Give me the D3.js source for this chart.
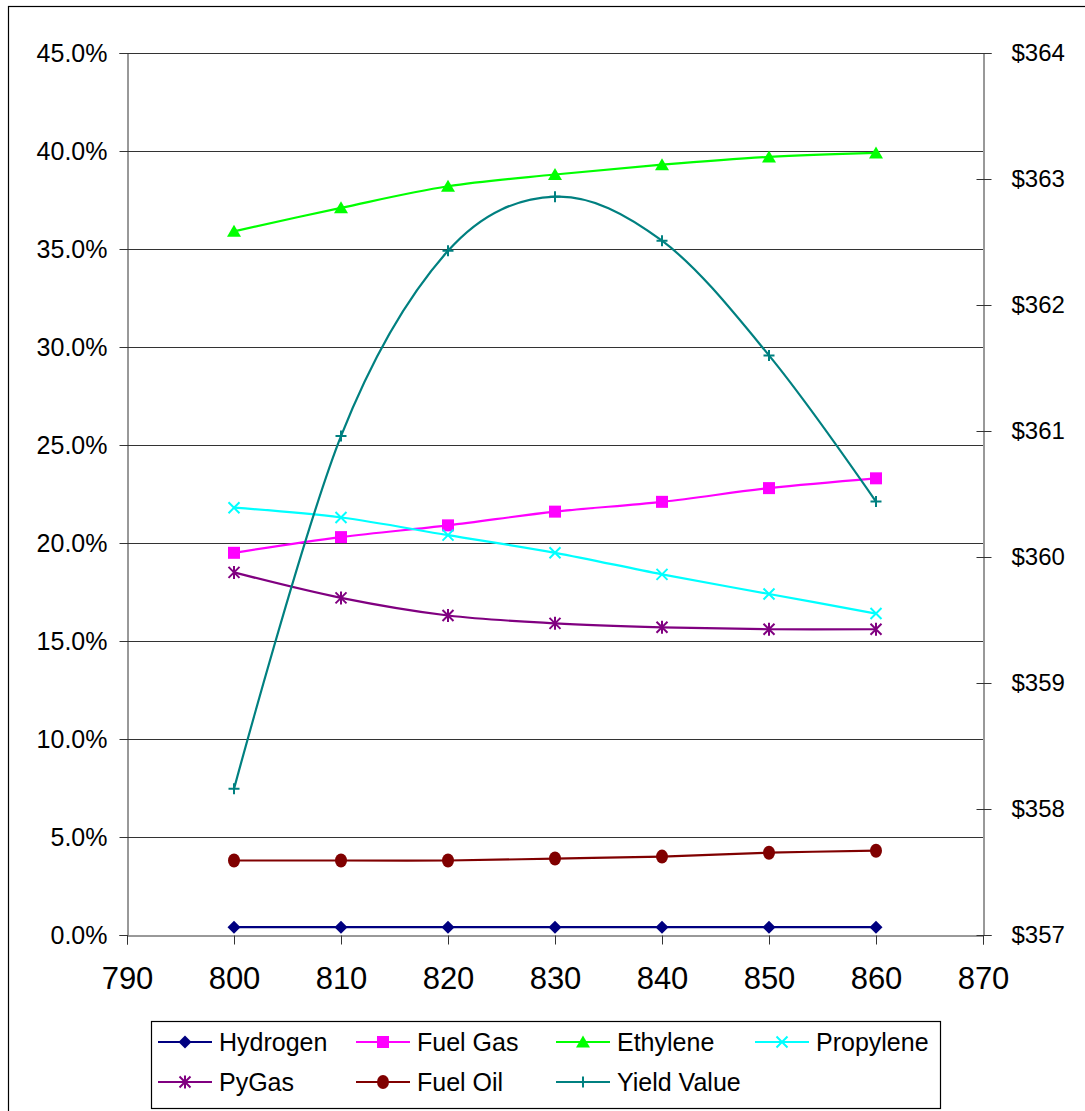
<!DOCTYPE html>
<html>
<head>
<meta charset="utf-8">
<script src="https://cdn.jsdelivr.net/npm/d3@7"></script>
<style>
  html, body { margin: 0; padding: 0; background: #fff; }
  svg { display: block; font-family: "Liberation Sans", Arial, sans-serif; }
</style>
</head>
<body>
<svg id="chart" width="1085" height="1111"></svg>
<script>
// Furnace outlet temperature
const temperatures = [800, 810, 820, 830, 840, 850, 860];

// Product yields, percent
const hydrogen  = [0.4, 0.4, 0.4, 0.4, 0.4, 0.4, 0.4];
const fuelGas   = [19.5, 20.3, 20.9, 21.6, 22.1, 22.8, 23.3];
const ethylene  = [35.9, 37.1, 38.2, 38.8, 39.3, 39.7, 39.9];
const propylene = [21.8, 21.3, 20.4, 19.5, 18.4, 17.4, 16.4];
const pyGas     = [18.5, 17.2, 16.3, 15.9, 15.7, 15.6, 15.6];
const fuelOil   = [3.8, 3.8, 3.8, 3.9, 4.0, 4.2, 4.3];

// Yield value, dollars (secondary axis)
const yieldValue = [358.16, 360.96, 362.43, 362.86, 362.51, 361.60, 360.44];

// Axis ticks
const xTicks = [790, 800, 810, 820, 830, 840, 850, 860, 870];
const leftTicks = [0, 5, 10, 15, 20, 25, 30, 35, 40, 45];
const rightTicks = [357, 358, 359, 360, 361, 362, 363, 364];

const series = [
  { name: "Hydrogen",    values: hydrogen,   color: "#000080", marker: "diamond",  axis: "left" },
  { name: "Fuel Gas",    values: fuelGas,    color: "#FF00FF", marker: "square",   axis: "left" },
  { name: "Ethylene",    values: ethylene,   color: "#00FF00", marker: "triangle", axis: "left" },
  { name: "Propylene",   values: propylene,  color: "#00FFFF", marker: "x",        axis: "left" },
  { name: "PyGas",       values: pyGas,      color: "#800080", marker: "star",     axis: "left" },
  { name: "Fuel Oil",    values: fuelOil,    color: "#800000", marker: "circle",   axis: "left" },
  { name: "Yield Value", values: yieldValue, color: "#008080", marker: "plus",     axis: "right" }
];

const svg = d3.select("#chart");

const plot = { left: 127, right: 983, top: 53, bottom: 935 };

const x = d3.scaleLinear().domain([790, 870]).range([plot.left, plot.right]);
const yLeft = d3.scaleLinear().domain([0, 45]).range([plot.bottom, plot.top]);
const yRight = d3.scaleLinear().domain([357, 364]).range([plot.bottom, plot.top]);

// Outer frame
svg.append("rect")
  .attr("x", 8.5).attr("y", 6.5)
  .attr("width", 1090).attr("height", 1110)
  .attr("fill", "none").attr("stroke", "#000").attr("stroke-width", 1.2);

// Horizontal gridlines
svg.append("g")
  .selectAll("line")
  .data(leftTicks.filter(d => d > 0))
  .join("line")
  .attr("x1", plot.left).attr("x2", plot.right)
  .attr("y1", d => Math.round(yLeft(d)) + 0.5)
  .attr("y2", d => Math.round(yLeft(d)) + 0.5)
  .attr("stroke", "#333").attr("stroke-width", 1);

// Left axis
const leftAxis = svg.append("g")
  .attr("transform", `translate(${plot.left + 0.5},0)`)
  .call(d3.axisLeft(yLeft).tickValues(leftTicks).tickSize(8).tickPadding(12)
    .tickFormat(d => d.toFixed(1) + "%"));
leftAxis.select(".domain").attr("stroke", "#333");
leftAxis.selectAll(".tick line").attr("stroke", "#333");
leftAxis.selectAll("text")
  .attr("font-size", 25).attr("fill", "#000")
  .attr("font-family", "Liberation Sans, Arial, sans-serif");

// Right axis (ticks cross the axis line)
const rightAxis = svg.append("g")
  .attr("transform", `translate(${plot.right + 0.5},0)`)
  .call(d3.axisRight(yRight).tickValues(rightTicks).tickSize(8).tickPadding(20)
    .tickFormat(d => "$" + d));
rightAxis.select(".domain").attr("stroke", "#333");
rightAxis.selectAll(".tick line").attr("x1", -7).attr("stroke", "#333");
rightAxis.selectAll("text")
  .attr("font-size", 24).attr("fill", "#000")
  .attr("font-family", "Liberation Sans, Arial, sans-serif");

// Bottom axis
const bottomAxis = svg.append("g")
  .attr("transform", `translate(0,${plot.bottom + 0.5})`)
  .call(d3.axisBottom(x).tickValues(xTicks).tickSize(9).tickPadding(22)
    .tickFormat(d3.format("d")));
bottomAxis.select(".domain").attr("stroke", "#333");
bottomAxis.selectAll(".tick line").attr("stroke", "#333");
bottomAxis.selectAll("text")
  .attr("font-size", 31).attr("fill", "#000")
  .attr("font-family", "Liberation Sans, Arial, sans-serif");

// Marker shapes
function drawMarker(g, type, color, size) {
  const s = size / 2;
  switch (type) {
    case "diamond":
      g.append("path").attr("d", `M0,${-s}L${s},0L0,${s}L${-s},0Z`).attr("fill", color);
      break;
    case "square":
      g.append("rect").attr("x", -s + 0.5).attr("y", -s + 0.5)
        .attr("width", size - 1).attr("height", size - 1).attr("fill", color);
      break;
    case "triangle":
      g.append("path").attr("d", `M0,${-s}L${s + 0.5},${s - 1}L${-s - 0.5},${s - 1}Z`).attr("fill", color);
      break;
    case "x":
      g.append("path").attr("d", `M${-s + 1},${-s + 1}L${s - 1},${s - 1}M${s - 1},${-s + 1}L${-s + 1},${s - 1}`)
        .attr("stroke", color).attr("stroke-width", 2).attr("fill", "none");
      break;
    case "star":
      g.append("path").attr("d", `M${-s + 1},${-s + 1}L${s - 1},${s - 1}M${s - 1},${-s + 1}L${-s + 1},${s - 1}M0,${-s}L0,${s}`)
        .attr("stroke", color).attr("stroke-width", 2).attr("fill", "none");
      break;
    case "circle":
      g.append("ellipse").attr("rx", s - 0.5).attr("ry", s + 0.5).attr("fill", color);
      break;
    case "plus":
      g.append("path").attr("d", `M${-s + 1},0L${s - 1},0M0,${-s + 1}L0,${s - 1}`)
        .attr("stroke", color).attr("stroke-width", 2).attr("fill", "none");
      break;
  }
}

// Series lines and markers
const curve = d3.curveCardinal.tension(0);
series.forEach(sr => {
  const yScale = sr.axis === "right" ? yRight : yLeft;
  const pts = temperatures.map((t, i) => [t, sr.values[i]]);
  const line = d3.line().x(d => x(d[0])).y(d => yScale(d[1])).curve(curve);
  svg.append("path")
    .datum(pts)
    .attr("d", line)
    .attr("fill", "none")
    .attr("stroke", sr.color)
    .attr("stroke-width", 2.2);
  const mg = svg.append("g");
  pts.forEach(p => {
    const g = mg.append("g").attr("transform", `translate(${x(p[0])},${yScale(p[1])})`);
    drawMarker(g, sr.marker, sr.color, 13);
  });
});

// Legend
const legend = svg.append("g");
legend.append("rect")
  .attr("x", 151.5).attr("y", 1021.5)
  .attr("width", 789).attr("height", 87)
  .attr("fill", "#fff").attr("stroke", "#000").attr("stroke-width", 1.2);

const colX = [158, 356, 556, 755];
const rowY = [1042, 1082];
series.forEach((sr, i) => {
  const col = i < 4 ? i : i - 4;
  const row = i < 4 ? 0 : 1;
  const lx = colX[col], ly = rowY[row];
  const g = legend.append("g").attr("transform", `translate(${lx},${ly})`);
  g.append("line").attr("x1", 0).attr("x2", 54).attr("y1", 0).attr("y2", 0)
    .attr("stroke", sr.color).attr("stroke-width", 2.2);
  const mg = g.append("g").attr("transform", "translate(27,0)");
  drawMarker(mg, sr.marker, sr.color, 13);
  g.append("text")
    .attr("x", 61).attr("y", 0).attr("dy", "0.35em")
    .attr("font-size", 25)
    .attr("fill", "#000")
    .text(sr.name);
});
</script>
</body>
</html>
